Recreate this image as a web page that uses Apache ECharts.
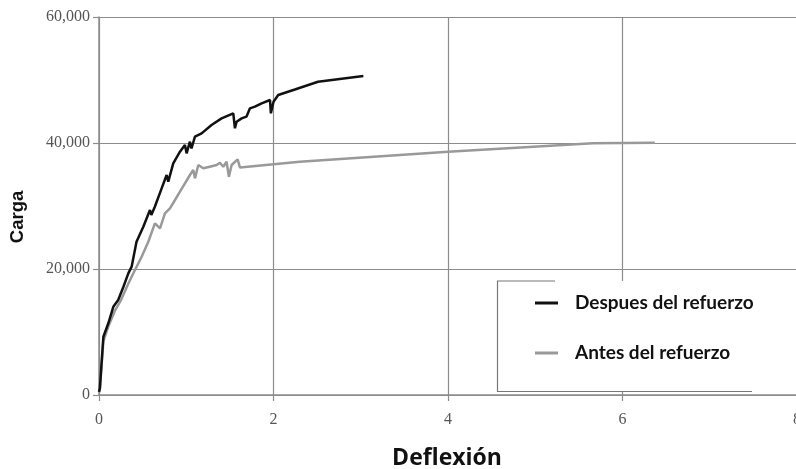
<!DOCTYPE html>
<html><head><meta charset="utf-8">
<script src="https://cdn.jsdelivr.net/npm/echarts@6/dist/echarts.min.js"></script>
<style>html,body{margin:0;padding:0;background:#fff}#c{width:796px;height:469px}</style>
</head><body><div id="c"></div>
<script>
const xTicks = [0, 2, 4, 6, 8];
const yTicks = [0, 20000, 40000, 60000];
const despuesX = [0, 0.01, 0.05, 0.107, 0.164, 0.22, 0.28, 0.336, 0.374, 0.43, 0.508, 0.584, 0.6, 0.64, 0.718, 0.775, 0.794, 0.851, 0.928, 0.985, 1.004, 1.042, 1.06, 1.1, 1.176, 1.29, 1.405, 1.539, 1.558, 1.577, 1.635, 1.69, 1.73, 1.787, 1.864, 1.96, 1.97, 2.0, 2.054, 2.245, 2.51, 3.03];
const despuesY = [500, 1060, 9250, 11380, 14000, 15080, 17190, 19300, 20370, 24330, 26720, 29370, 28570, 29890, 32800, 34920, 33860, 36770, 38620, 39680, 38360, 40210, 39150, 41000, 41530, 42860, 43910, 44710, 42330, 43380, 43910, 44180, 45500, 45770, 46300, 46830, 44710, 46560, 47620, 48500, 49730, 50630];
const antesX = [0, 0.01, 0.05, 0.11, 0.18, 0.25, 0.33, 0.412, 0.489, 0.565, 0.641, 0.699, 0.756, 0.813, 0.871, 0.928, 0.985, 1.042, 1.08, 1.1, 1.138, 1.195, 1.27, 1.348, 1.386, 1.424, 1.462, 1.489, 1.52, 1.589, 1.615, 1.635, 2.3, 4.0, 5.66, 6.37];
const antesY = [500, 1000, 8500, 11000, 13300, 15000, 17500, 19840, 21950, 24330, 27250, 26460, 28830, 29630, 30950, 32270, 33600, 34920, 35710, 34390, 36510, 35980, 36240, 36510, 36870, 36240, 37030, 34650, 36510, 37400, 36130, 36350, 37030, 38620, 39950, 40050];
const seriesNames = ['Despues del refuerzo', 'Antes del refuerzo'];
const xTitle = 'Deflexión';
const yTitle = 'Carga';

const zip = (xs, ys) => xs.map((x, i) => [x, ys[i]]);
const chart = echarts.init(document.getElementById('c'), null, {renderer: 'canvas'});
const gridColor = '#8c8c8c';
const labelStyle = {fontFamily: 'Liberation Serif', fontSize: 16, color: '#555'};
chart.setOption({
  animation: false,
  backgroundColor: '#fff',
  grid: {left: 99, top: 17, width: 698, height: 378, outerBoundsMode: 'none', containLabel: false},
  xAxis: {
    type: 'value', min: xTicks[0], max: xTicks[xTicks.length - 1], interval: 2,
    axisLine: {show: true, lineStyle: {color: gridColor, width: 1.5}},
    axisTick: {show: true, length: 6, lineStyle: {color: gridColor, width: 1.2}},
    axisLabel: Object.assign({margin: 17, hideOverlap: false, showMaxLabel: true}, labelStyle),
    splitLine: {show: true, lineStyle: {color: gridColor, width: 1.2}}
  },
  yAxis: {
    type: 'value', min: yTicks[0], max: yTicks[yTicks.length - 1], interval: 20000,
    axisLine: {show: true, lineStyle: {color: gridColor, width: 1.5}},
    axisTick: {show: true, length: 6, lineStyle: {color: gridColor, width: 1.2}},
    axisLabel: Object.assign({margin: 9, formatter: v => v.toLocaleString('en-US')}, labelStyle),
    splitLine: {show: true, lineStyle: {color: gridColor, width: 1.2}}
  },
  legend: {
    orient: 'vertical', left: 530, top: 288, itemWidth: 23, itemHeight: 3, itemGap: 30, icon: 'rect', z: 10,
    textStyle: {fontFamily: 'Lato', fontWeight: 'bold', fontSize: 19, lineHeight: 20, color: '#111', padding: [0, 0, 0, 12]},
    data: seriesNames
  },
  graphic: [
    {type: 'rect', z: 5, shape: {x: 497, y: 281, width: 256, height: 111}, style: {fill: '#fff', stroke: null}},
    {type: 'polyline', z: 6, shape: {points: [[555, 281], [497.5, 281], [497.5, 391.5], [752, 391.5]]}, style: {fill: null, stroke: '#777', lineWidth: 1.2}},
    {type: 'text', z: 6, x: 447, y: 458, style: {text: xTitle, align: 'center', verticalAlign: 'middle', fontFamily: 'Open Sans', fontWeight: 'bold', fontSize: 23, fill: '#111'}},
    {type: 'text', z: 6, x: 18, y: 217, rotation: Math.PI / 2, style: {text: yTitle, align: 'center', verticalAlign: 'middle', fontFamily: 'Liberation Sans', fontWeight: 'bold', fontSize: 18.5, fill: '#111'}}
  ],
  series: [
    {name: seriesNames[0], type: 'line', showSymbol: false, data: zip(despuesX, despuesY), lineStyle: {color: '#111', width: 2.5}, itemStyle: {color: '#111'}, z: 4},
    {name: seriesNames[1], type: 'line', showSymbol: false, data: zip(antesX, antesY), lineStyle: {color: '#999', width: 2.5}, itemStyle: {color: '#999'}, z: 3}
  ]
});
</script></body></html>
